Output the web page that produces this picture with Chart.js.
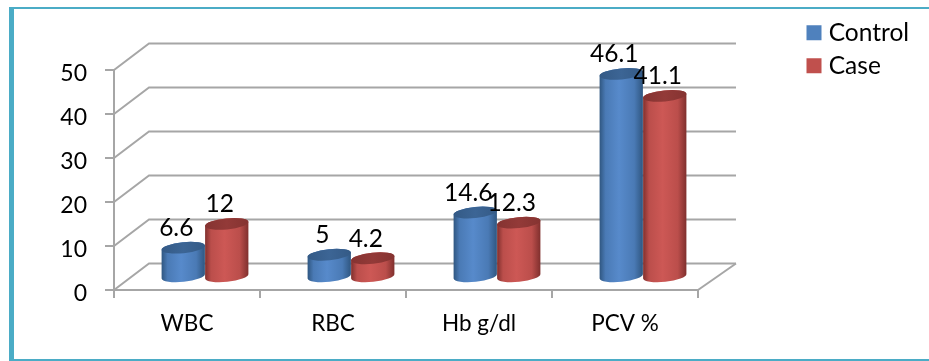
<!DOCTYPE html>
<html>
<head>
<meta charset="utf-8">
<script src="https://cdn.jsdelivr.net/npm/chart.js@4"></script>
<style>
html,body{margin:0;padding:0;background:#fff;overflow:hidden}
#wrap{position:relative;width:929px;height:361px;overflow:hidden}
#frame{position:absolute;left:9px;top:7px;right:-5px;bottom:0;box-sizing:border-box;border-left:5px solid #4bacc6;border-top:2px solid #4bacc6;border-bottom:2px solid #4bacc6;pointer-events:none}
canvas{position:absolute;left:0;top:0;filter:blur(0.35px)}
</style>
</head>
<body>
<div id="wrap"><canvas id="c" width="929" height="361"></canvas><div id="frame"></div></div>
<script>
const categories = ['WBC', 'RBC', 'Hb g/dl', 'PCV %'];
const controlValues = [6.6, 5, 14.6, 46.1];
const caseValues = [12, 4.2, 12.3, 41.1];
const seriesNames = ['Control', 'Case'];
const seriesColors = ['#4f81bd', '#c0504d'];
const FONT = 'Lato, Carlito, Calibri, sans-serif';
const GRID = '#a6a6a6';
const DEPTH_X = 35, DEPTH_Y = 26.5;
const BAR_SHIFT_X = 18;

const shades = [
  {edge:'#2f5680', mid:'#4a7ab5', high:'#578acb', top:'#3c6595', topEdge:'#345a86'},
  {edge:'#7f2f2d', mid:'#bb4e4b', high:'#cd5855', top:'#933a38', topEdge:'#853331'}
];

function drawCylinder(ctx, bar, s, yBase) {
  const cx = bar.x + BAR_SHIFT_X;
  const rx = bar.width / 2;
  const ry = 5.5, rot = -0.1;
  const ty = bar.y - DEPTH_Y / 2;
  const by = yBase - DEPTH_Y / 2 - 0.5;
  const g = ctx.createLinearGradient(cx - rx, 0, cx + rx, 0);
  g.addColorStop(0, s.edge);
  g.addColorStop(0.14, s.mid);
  g.addColorStop(0.45, s.high);
  g.addColorStop(0.8, s.mid);
  g.addColorStop(1, s.edge);
  ctx.beginPath();
  ctx.ellipse(cx, by, rx, ry, rot, 0, Math.PI);
  ctx.ellipse(cx, ty, rx, ry, rot, Math.PI, 2 * Math.PI);
  ctx.closePath();
  ctx.fillStyle = g;
  ctx.fill();
  const t = ctx.createLinearGradient(cx - rx, 0, cx + rx, 0);
  t.addColorStop(0, s.topEdge);
  t.addColorStop(0.5, s.top);
  t.addColorStop(1, s.topEdge);
  ctx.beginPath();
  ctx.ellipse(cx, ty, rx, ry, rot, 0, 2 * Math.PI);
  ctx.fillStyle = t;
  ctx.fill();
}

const box3d = {
  id: 'box3d',
  afterLayout(chart) {
    const l = chart.legend;
    const w = l.width, h = l.height;
    l.left = 803; l.right = 803 + w; l.top = 12; l.bottom = 12 + h;
  },
  beforeDatasetsDraw(chart) {
    const {ctx, chartArea: a, scales: {y}} = chart;
    ctx.save();
    ctx.strokeStyle = GRID;
    ctx.lineWidth = 2;
    y.ticks.forEach(t => {
      const py = y.getPixelForValue(t.value);
      ctx.beginPath();
      ctx.moveTo(a.left, py);
      ctx.lineTo(a.left + DEPTH_X, py - DEPTH_Y);
      ctx.lineTo(a.right + DEPTH_X + 3, py - DEPTH_Y);
      ctx.stroke();
    });
    ctx.beginPath();
    ctx.moveTo(a.right, a.bottom);
    ctx.lineTo(a.right + DEPTH_X + 3, a.bottom - DEPTH_Y);
    ctx.stroke();
    ctx.restore();
  },
  beforeDatasetDraw() { return false; },
  afterDatasetsDraw(chart) {
    const {ctx, scales: {y}} = chart;
    ctx.save();
    const base = y.getPixelForValue(0);
    categories.forEach((_, i) => {
      chart.data.datasets.forEach((ds, d) => {
        drawCylinder(ctx, chart.getDatasetMeta(d).data[i], shades[d], base);
      });
    });
    ctx.font = '24.5px ' + FONT;
    ctx.fillStyle = '#000';
    ctx.textAlign = 'center';
    ctx.textBaseline = 'middle';
    chart.data.datasets.forEach((ds, d) => {
      chart.getDatasetMeta(d).data.forEach((bar, i) => {
        ctx.fillText(String(ds.data[i]), bar.x + BAR_SHIFT_X - 7, bar.y - DEPTH_Y / 2 - 19.5);
      });
    });
    ctx.restore();
  }
};

new Chart(document.getElementById('c'), {
  type: 'bar',
  data: {
    labels: categories,
    datasets: [
      {label: seriesNames[0], data: controlValues, backgroundColor: seriesColors[0]},
      {label: seriesNames[1], data: caseValues, backgroundColor: seriesColors[1]}
    ]
  },
  plugins: [box3d],
  options: {
    responsive: false,
    animation: false,
    categoryPercentage: 0.596,
    barPercentage: 1,
    layout: {padding: {left: 0, right: 231, top: 70, bottom: 0}},
    plugins: {
      tooltip: {enabled: false},
      legend: {
        position: 'chartArea',
        align: 'start',
        labels: {
          usePointStyle: true, pointStyle: 'rect',
          boxWidth: 5, boxHeight: 15, padding: 8.5,
          color: '#000',
          font: {family: FONT, size: 24.5}
        }
      }
    },
    scales: {
      x: {
        afterFit(s) { s.height = 71; },
        offset: true,
        border: {color: GRID, width: 2},
        grid: {display: true, offset: true, drawOnChartArea: false, color: GRID, lineWidth: 2, tickLength: 8},
        ticks: {color: '#000', padding: 12, maxRotation: 0, font: {family: FONT, size: 22.5}}
      },
      y: {
        afterFit(s) { s.width = 114; },
        min: 0, max: 50,
        border: {color: GRID, width: 2},
        grid: {display: true, drawOnChartArea: false, color: GRID, lineWidth: 2, tickLength: 9},
        ticks: {stepSize: 10, color: '#000', padding: 18, labelOffset: 4, font: {family: FONT, size: 23}}
      }
    }
  }
});
</script>
</body>
</html>
